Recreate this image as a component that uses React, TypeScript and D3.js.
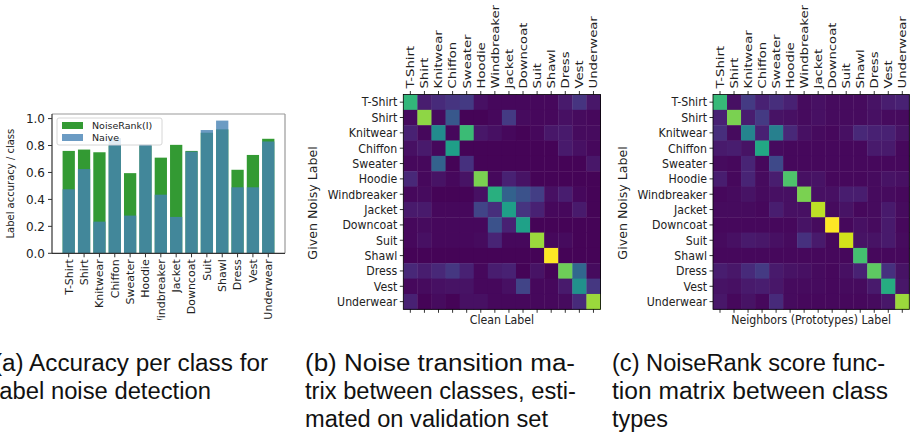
import { useEffect, useRef } from 'react';
import * as d3 from 'd3';

const classes = [
  'T-Shirt', 'Shirt', 'Knitwear', 'Chiffon', 'Sweater', 'Hoodie', 'Windbreaker',
  'Jacket', 'Downcoat', 'Suit', 'Shawl', 'Dress', 'Vest', 'Underwear',
];

// (a) label accuracy per class
const noiseRank = [0.76, 0.77, 0.75, 0.8, 0.595, 0.8, 0.71, 0.805, 0.76, 0.895, 0.92, 0.62, 0.73, 0.85];
const naive = [0.475, 0.625, 0.235, 0.855, 0.28, 0.81, 0.435, 0.27, 0.755, 0.915, 0.985, 0.49, 0.49, 0.83];
const yTicks = [0, 0.2, 0.4, 0.6, 0.8, 1.0];

// (b) noise transition matrix (rows: noisy label, cols: clean label), normalised
const transition = [
  [0.66, 0.08, 0.12, 0.15, 0.17, 0.04, 0.02, 0.02, 0.02, 0.02, 0.02, 0.07, 0.15, 0.06],
  [0.03, 0.83, 0.03, 0.27, 0.01, 0.01, 0.02, 0.17, 0.03, 0.02, 0.02, 0.04, 0.03, 0.02],
  [0.09, 0.02, 0.48, 0.02, 0.68, 0.06, 0.04, 0.02, 0.01, 0.02, 0.06, 0.07, 0.03, 0.03],
  [0.04, 0.07, 0.02, 0.56, 0.01, 0.01, 0.01, 0.01, 0.01, 0.01, 0.01, 0.07, 0.04, 0.02],
  [0.02, 0.02, 0.31, 0.01, 0.14, 0.01, 0.01, 0.01, 0.01, 0.01, 0.01, 0.01, 0.01, 0.06],
  [0.11, 0.02, 0.05, 0.02, 0.05, 0.8, 0.02, 0.09, 0.05, 0.01, 0.01, 0.01, 0.01, 0.01],
  [0.02, 0.03, 0.01, 0.01, 0.01, 0.04, 0.63, 0.31, 0.25, 0.18, 0.04, 0.08, 0.02, 0.01],
  [0.07, 0.07, 0.02, 0.02, 0.02, 0.2, 0.13, 0.56, 0.15, 0.09, 0.02, 0.02, 0.07, 0.01],
  [0.02, 0.03, 0.02, 0.02, 0.02, 0.02, 0.25, 0.09, 0.57, 0.01, 0.01, 0.01, 0.01, 0.01],
  [0.02, 0.04, 0.02, 0.02, 0.02, 0.03, 0.1, 0.02, 0.02, 0.85, 0.02, 0.03, 0.01, 0.01],
  [0.01, 0.01, 0.01, 0.01, 0.01, 0.01, 0.01, 0.01, 0.01, 0.01, 1.0, 0.01, 0.01, 0.01],
  [0.11, 0.08, 0.11, 0.16, 0.09, 0.02, 0.08, 0.09, 0.01, 0.05, 0.01, 0.78, 0.33, 0.03],
  [0.02, 0.03, 0.04, 0.05, 0.05, 0.02, 0.02, 0.04, 0.2, 0.02, 0.02, 0.07, 0.5, 0.16],
  [0.09, 0.01, 0.03, 0.01, 0.04, 0.04, 0.02, 0.02, 0.02, 0.02, 0.02, 0.03, 0.12, 0.85],
];

// (c) NoiseRank score function matrix, normalised
const scoreMatrix = [
  [0.67, 0.04, 0.17, 0.09, 0.13, 0.09, 0.03, 0.04, 0.03, 0.03, 0.03, 0.05, 0.08, 0.09],
  [0.09, 0.8, 0.08, 0.17, 0.05, 0.04, 0.03, 0.04, 0.03, 0.03, 0.03, 0.04, 0.03, 0.03],
  [0.13, 0.03, 0.45, 0.09, 0.43, 0.11, 0.04, 0.03, 0.02, 0.04, 0.11, 0.09, 0.09, 0.05],
  [0.07, 0.08, 0.05, 0.6, 0.03, 0.02, 0.02, 0.02, 0.02, 0.02, 0.02, 0.07, 0.07, 0.02],
  [0.03, 0.02, 0.1, 0.02, 0.22, 0.02, 0.02, 0.02, 0.02, 0.02, 0.02, 0.02, 0.02, 0.02],
  [0.08, 0.02, 0.1, 0.03, 0.08, 0.72, 0.04, 0.05, 0.02, 0.02, 0.02, 0.03, 0.05, 0.04],
  [0.02, 0.03, 0.05, 0.03, 0.04, 0.04, 0.8, 0.04, 0.04, 0.08, 0.08, 0.03, 0.03, 0.02],
  [0.03, 0.03, 0.03, 0.02, 0.08, 0.04, 0.04, 0.9, 0.03, 0.05, 0.02, 0.03, 0.07, 0.03],
  [0.02, 0.02, 0.02, 0.02, 0.02, 0.02, 0.05, 0.03, 1.0, 0.02, 0.04, 0.03, 0.07, 0.02],
  [0.03, 0.04, 0.07, 0.06, 0.04, 0.03, 0.14, 0.07, 0.02, 0.93, 0.05, 0.05, 0.07, 0.03],
  [0.02, 0.02, 0.02, 0.02, 0.02, 0.02, 0.02, 0.02, 0.02, 0.02, 0.7, 0.02, 0.02, 0.02],
  [0.08, 0.06, 0.12, 0.17, 0.07, 0.05, 0.04, 0.03, 0.02, 0.04, 0.09, 0.75, 0.14, 0.05],
  [0.05, 0.04, 0.07, 0.08, 0.06, 0.03, 0.03, 0.03, 0.02, 0.03, 0.03, 0.07, 0.62, 0.06],
  [0.06, 0.02, 0.05, 0.02, 0.12, 0.03, 0.02, 0.02, 0.02, 0.02, 0.02, 0.03, 0.06, 0.85],
];

const captionA = ['(a) Accuracy per class for', 'label noise detection'];
const captionB = ['(b) Noise transition ma-', 'trix between classes, esti-', 'mated on validation set'];
const captionC = ['(c) NoiseRank score func-', 'tion matrix between class', 'types'];

const SANS = "'DejaVu Sans', sans-serif";
// no serif face is installed; a light sans stands in for the LaTeX caption font
const CAPTION_FONT = "'Liberation Sans', Arial, sans-serif";
const W = 916;
const H = 434;

type Box = { left: number; right: number; top: number; bottom: number };
type Sel = d3.Selection<SVGSVGElement, unknown, null, undefined>;

function drawHeatmap(svg: Sel, matrix: number[][], box: Box, xLabel: string, yLabelX: number) {
  const x = d3.scaleBand<number>().domain(d3.range(classes.length)).range([box.left, box.right]);
  const y = d3.scaleBand<number>().domain(d3.range(classes.length)).range([box.top, box.bottom]);
  const color = d3.scaleSequential(d3.interpolateViridis).domain([0, 1]);
  const g = svg.append('g');

  matrix.forEach((row, ri) => {
    row.forEach((v, ci) => {
      g.append('rect')
        .attr('x', x(ci)!)
        .attr('y', y(ri)!)
        .attr('width', x.bandwidth() + 0.4)
        .attr('height', y.bandwidth() + 0.4)
        .attr('fill', color(v));
    });
  });

  g.append('rect')
    .attr('x', box.left)
    .attr('y', box.top)
    .attr('width', box.right - box.left)
    .attr('height', box.bottom - box.top)
    .attr('fill', 'none')
    .attr('stroke', '#000')
    .attr('stroke-width', 0.8);

  classes.forEach((c, i) => {
    const cx = x(i)! + x.bandwidth() / 2;
    const cy = y(i)! + y.bandwidth() / 2;
    g.append('line')
      .attr('x1', box.left - 3.5).attr('x2', box.left)
      .attr('y1', cy).attr('y2', cy)
      .attr('stroke', '#000').attr('stroke-width', 0.8);
    g.append('text')
      .attr('transform', `translate(${box.left - 6},${cy}) scale(1,1.12)`)
      .attr('dy', '0.35em')
      .attr('text-anchor', 'end')
      .style('font-family', SANS)
      .attr('font-size', 11)
      .attr('fill', '#222')
      .text(c);
    g.append('line')
      .attr('x1', cx).attr('x2', cx)
      .attr('y1', box.top - 3.5).attr('y2', box.top)
      .attr('stroke', '#000').attr('stroke-width', 0.8);
    g.append('line')
      .attr('x1', cx).attr('x2', cx)
      .attr('y1', box.bottom).attr('y2', box.bottom + 3.5)
      .attr('stroke', '#000').attr('stroke-width', 0.8);
    g.append('text')
      .attr('transform', `translate(${cx},${box.top - 6}) scale(1,1.2) rotate(-90)`)
      .attr('dy', '0.35em')
      .attr('text-anchor', 'start')
      .style('font-family', SANS)
      .attr('font-size', 11)
      .attr('fill', '#222')
      .text(c);
  });

  g.append('text')
    .attr('transform', `translate(${(box.left + box.right) / 2},${box.bottom + 15}) scale(1,1.1)`)
    .attr('text-anchor', 'middle')
    .style('font-family', SANS)
    .attr('font-size', 11)
    .attr('fill', '#222')
    .text(xLabel);

  g.append('text')
    .attr('transform', `translate(${yLabelX},${(box.top + box.bottom) / 2 + 1}) scale(1,1.1) rotate(-90)`)
    .attr('dy', '0.35em')
    .attr('text-anchor', 'middle')
    .style('font-family', SANS)
    .attr('font-size', 11.5)
    .attr('fill', '#222')
    .text('Given Noisy Label');
}

function drawCaption(svg: Sel, lines: string[], x0: number, widths: number[]) {
  lines.forEach((line, i) => {
    svg.append('text')
      .attr('x', x0)
      .attr('y', 371 + i * 28)
      .style('font-family', CAPTION_FONT)
      .attr('font-size', 23)
      .attr('fill', '#111')
      .attr('textLength', widths[i])
      .attr('lengthAdjust', 'spacingAndGlyphs')
      .text(line);
  });
}

export default function App() {
  const svgRef = useRef<SVGSVGElement>(null);

  useEffect(() => {
    const svg = d3.select(svgRef.current!);
    svg.selectAll('*').remove();

    svg.append('rect').attr('width', W).attr('height', H).attr('fill', '#fff');

    // clip for panel (a): the subfigure is cut just above the captions
    svg.append('defs').append('clipPath').attr('id', 'clipA')
      .append('rect').attr('x', 0).attr('y', 0).attr('width', 300).attr('height', 320);

    // ---------- (a) bar chart ----------
    const left = 52, right = 285, top = 114, bottom = 253.3;
    const x = d3.scaleLinear().domain([-1.09, 14.09]).range([left, right]);
    const y = d3.scaleLinear().domain([0, 1.034]).range([bottom, top]);
    const bw = x(0.8) - x(0);
    const a = svg.append('g').attr('clip-path', 'url(#clipA)');

    classes.forEach((_, i) => {
      a.append('rect')
        .attr('x', x(i - 0.4))
        .attr('y', y(noiseRank[i]))
        .attr('width', bw)
        .attr('height', y(0) - y(noiseRank[i]))
        .attr('fill', '#339a33');
    });
    classes.forEach((_, i) => {
      a.append('rect')
        .attr('x', x(i - 0.4))
        .attr('y', y(naive[i]))
        .attr('width', bw)
        .attr('height', y(0) - y(naive[i]))
        .attr('fill', '#4682b4')
        .attr('fill-opacity', 0.8);
    });

    a.append('line').attr('x1', left).attr('x2', right).attr('y1', top).attr('y2', top)
      .attr('stroke', '#999').attr('stroke-width', 1.2);
    a.append('line').attr('x1', right).attr('x2', right).attr('y1', top).attr('y2', bottom)
      .attr('stroke', '#999').attr('stroke-width', 1.2);
    a.append('line').attr('x1', left).attr('x2', left).attr('y1', top).attr('y2', bottom)
      .attr('stroke', '#333').attr('stroke-width', 1.2);
    a.append('line').attr('x1', left).attr('x2', right).attr('y1', bottom).attr('y2', bottom)
      .attr('stroke', '#333').attr('stroke-width', 1.2);

    yTicks.forEach((t) => {
      a.append('line')
        .attr('x1', left - 4).attr('x2', left)
        .attr('y1', y(t)).attr('y2', y(t))
        .attr('stroke', '#333');
      a.append('text')
        .attr('x', left - 7)
        .attr('y', y(t))
        .attr('dy', '0.35em')
        .attr('text-anchor', 'end')
        .style('font-family', SANS)
        .attr('font-size', 12)
        .attr('fill', '#222')
        .text(d3.format('.1f')(t));
    });

    classes.forEach((c, i) => {
      a.append('line')
        .attr('x1', x(i)).attr('x2', x(i))
        .attr('y1', bottom).attr('y2', bottom + 4)
        .attr('stroke', '#333');
      a.append('text')
        .attr('transform', `translate(${x(i)},${bottom + 6}) rotate(-90)`)
        .attr('dy', '0.35em')
        .attr('text-anchor', 'end')
        .style('font-family', SANS)
        .attr('font-size', 11)
        .attr('fill', '#222')
        .text(c);
    });

    a.append('text')
      .attr('transform', `translate(10,${(top + bottom) / 2}) rotate(-90)`)
      .attr('dy', '0.35em')
      .attr('text-anchor', 'middle')
      .style('font-family', SANS)
      .attr('font-size', 10)
      .attr('fill', '#222')
      .text('Label accuracy / class');

    a.append('rect')
      .attr('x', 57).attr('y', 118).attr('width', 105).attr('height', 27)
      .attr('rx', 2)
      .attr('fill', '#fff').attr('fill-opacity', 0.8)
      .attr('stroke', '#ccc').attr('stroke-width', 0.8);
    const legend = [
      { label: 'NoiseRank(I)', fill: '#339a33', op: 1 },
      { label: 'Naive', fill: '#4682b4', op: 0.8 },
    ];
    legend.forEach((l, i) => {
      const ly = 125.5 + i * 12;
      a.append('rect')
        .attr('x', 62).attr('y', ly - 3.5).attr('width', 21).attr('height', 7)
        .attr('fill', l.fill).attr('fill-opacity', l.op);
      a.append('text')
        .attr('x', 92).attr('y', ly)
        .attr('dy', '0.35em')
        .style('font-family', SANS)
        .attr('font-size', 9.5)
        .attr('fill', '#222')
        .text(l.label);
    });

    // ---------- (b) and (c) heatmaps ----------
    drawHeatmap(svg, transition, { left: 403.3, right: 600.5, top: 94.5, bottom: 309.3 }, 'Clean Label', 313);
    drawHeatmap(svg, scoreMatrix, { left: 713, right: 909.3, top: 94.5, bottom: 309.3 }, 'Neighbors (Prototypes) Label', 623);

    // ---------- captions ----------
    drawCaption(svg, captionA, -6, [274, 217]);
    drawCaption(svg, captionB, 305, [270, 271, 243]);
    drawCaption(svg, captionC, 612, [273, 276, 56]);
  }, []);

  return (
    <svg
      ref={svgRef}
      width={W}
      height={H}
      style={{ position: 'absolute', left: 0, top: 0 }}
    />
  );
}
